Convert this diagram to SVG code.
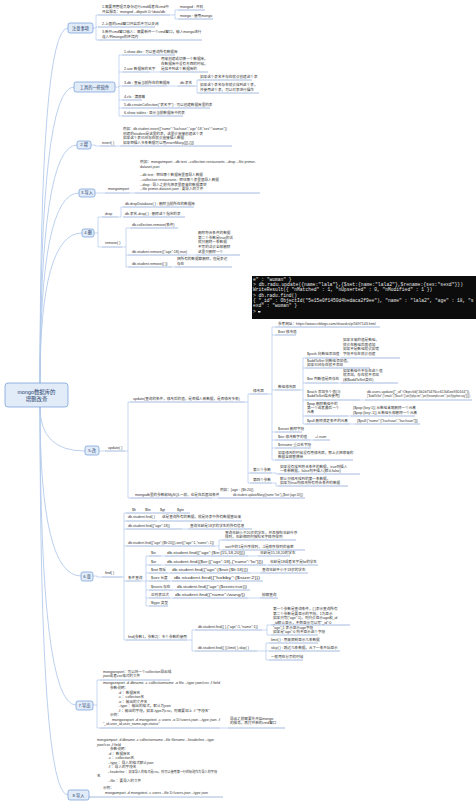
<svg xmlns="http://www.w3.org/2000/svg" width="476" height="806" viewBox="0 0 476 806">
<style>
.t{font-family:"Liberation Sans","Noto Sans CJK SC",sans-serif;font-size:3.6px;fill:#333}
.s{font-size:2.6px}
.bt{font-family:"Liberation Sans","Noto Sans CJK SC",sans-serif;font-size:4.2px;fill:#1f3d6b;text-anchor:middle}
.rt{font-family:"Liberation Sans","Noto Sans CJK SC",sans-serif;font-size:5.4px;fill:#1f3d6b;text-anchor:middle}
.box{fill:#e2ecf9;stroke:#6d99d6;stroke-width:0.7}
.u{stroke:#5a86c8;stroke-width:0.55;fill:none}
.c{stroke:#8fb1e0;stroke-width:0.5;fill:none;stroke-linejoin:round}
.r{stroke:#b3cbec;stroke-width:0.9;fill:none}
.code{font-family:"Liberation Mono",monospace;font-size:4.6px;fill:#e8e8e8}
</style>
<rect width="476" height="806" fill="#fff"/>
<g id="connectors">
<path class="r" d="M40,383Q40,28 68,28M40,383Q40,87 74,87M40,383Q40,145 77,145M40,383Q40,193 79,193M40,383Q40,233 82,233M40,407Q40,451 85,451M40,407Q40,576 81,576M40,407Q40,705 76,705M40,407Q40,795 68,795"/>
<path class="c" d="M93,28H96M96,15V40M96,15H98M96,27H98M96,40H98M170,15H175M175,10V19M175,10H178M175,19H178"/>
<path class="c" d="M115,87H119M119,55V116M119,55H122M119,72H122M119,86H122M119,100H122M119,108H122M119,116H122M150,72H160M167,86H178M195,86H197M197,80V93M197,80H198M197,93H198"/>
<path class="c" d="M91,145H95V146H100M116,146H120M95,193H105M130,193H135"/>
<path class="c" d="M94,233H98M98,217V247M98,217H102M98,247H102M118,217H121M121,207V217M121,207H123M122,247H126M126,228V267M126,228H130M126,255H128M126,267H128M187,255H196M172,267H175"/>
<path class="c" d="M99,451H105M125,451H128M128,402V498M128,402H130M128,498H130M245,402H248M248,394V483M248,394H250M248,473H250M248,483H250"/>
<path class="c" d="M268,394H272M272,327V460M272,327H275M272,335H275M272,390H275M272,432H275M272,440H275M272,448H275M272,460H275"/>
<path class="c" d="M300,390H303M303,358V424M303,358H305M303,368H305M303,383H305M303,400H305M303,416H305M303,424H305M338,358H341M338,383H341M360,400H365M348,416H351M350,424H355M310,440H313M272,473H276V474H278M272,483H276V486H278M212,498H218"/>
<path class="c" d="M93,576H97V577H102M122,577H124M124,513V640M124,513H126M124,521H126M124,529H126M124,546H126M124,581H126M124,640H126M157,521H160M182,529H188M215,546H219M219,540V550M219,540H222M219,550H222"/>
<path class="c" d="M141,581H146M146,556V606M146,556H149M146,565H149M146,573H149M146,581H149M146,590H149M146,598H149M146,606H149M161,556H165M248,556H258M161,565H165M266,565H268M168,573H170M250,573H260M170,581H172M173,590H175M170,598H173M248,598H260"/>
<path class="c" d="M187,640H192M192,630V651M192,630H195M192,651H195M262,630H267M267,625V635M267,625H271M267,635H271M257,651H266M266,643V660M266,643H269M266,651H269M266,660H269"/>
<path class="c" d="M93,705H97M97,680V728M97,680H100M97,728H100M220,728H228"/>
</g>
<g id="root"><rect class="box" x="5" y="383" width="63" height="24" rx="3"/><text class="rt" x="36.5" y="393.5">mongo数据库的</text><text class="rt" x="36.5" y="401">增删改查</text></g>
<g id="n1"><rect class="box" x="68" y="23" width="25" height="10" rx="2"/><text class="bt" x="80.5" y="29.5">注意事项</text>
<g id="n1-1"><text class="t" x="102" y="8.3">1.需要用管理员身份运行cmd或者在cmd中</text><text class="t" x="102" y="13.3">开启服务：mongod --dbpath D:\data\db</text><path class="u" d="M98,15H170"/></g>
<g id="n1-1a"><text class="t" x="180" y="8.3">mongod : 开机</text><path class="u" d="M178,10H205"/></g>
<g id="n1-1b"><text class="t" x="180" y="17.3">mongo : 使用mongo</text><path class="u" d="M178,19H213"/></g>
<g id="n1-2"><text class="t" x="102" y="25.3">2.上面的cmd窗口开启后不可以关闭</text><path class="u" d="M98,27H155"/></g>
<g id="n1-3"><text class="t" x="102" y="33.3">3.新开cmd窗口输入：需要新开一个cmd窗口，输入mongo进行</text><text class="t" x="102" y="38.3">连入到mongo的环境内</text><path class="u" d="M98,40H202"/></g>
</g>
<g id="n2"><rect class="box" x="74" y="82" width="41" height="10" rx="2"/><text class="bt" x="94.5" y="88.5">工具的一些软件</text>
<g id="n2-1"><text class="t" x="124" y="53.3">1.show dbs : 可以查询所有数据库</text><path class="u" d="M122,55H175"/></g>
<g id="n2-2"><text class="t" x="124" y="70.3">2.use 数据库的名字</text><path class="u" d="M122,72H150"/></g>
<g id="n2-2a"><text class="t" x="161" y="60.3">用来创建或切换一个数据库，</text><text class="t" x="161" y="65.3">在数据库中没有东西的时候，</text><text class="t" x="161" y="70.3">是找不到这个数据库的</text><path class="u" d="M160,72H208"/></g>
<g id="n2-3"><text class="t" x="124" y="84.3">3.db : 查看当前所在的数据库</text><path class="u" d="M122,86H167"/></g>
<g id="n2-3a"><text class="t" x="180" y="84.3">db.表名</text><path class="u" d="M178,86H195"/></g>
<g id="n2-3b"><text class="t" x="200" y="78.3">如果这个表名不存在就会创建这个表</text><path class="u" d="M198,80H252"/></g>
<g id="n2-3c"><text class="t" x="200" y="86.3">如果这个表名存在就会找到这个表，</text><text class="t" x="200" y="91.3">并使用这个表，可以对表进行操作</text><path class="u" d="M198,93H259"/></g>
<g id="n2-4"><text class="t" x="124" y="98.3">4.cls : 清屏幕</text><path class="u" d="M122,100H142"/></g>
<g id="n2-5"><text class="t" x="124" y="106.3">5.db.createCollection("表名字") : 可以创建数据库里的表</text><path class="u" d="M122,108H210"/></g>
<g id="n2-6"><text class="t" x="124" y="114.3">6.show tables : 显示当前数据库中的表</text><path class="u" d="M122,116H183"/></g>
</g>
<g id="n3"><rect class="box" x="77" y="141" width="14" height="8" rx="2"/><text class="bt" x="84" y="146.4">2.增</text>
<g id="n3-1"><text class="t" x="102" y="144.3">insert( )</text><path class="u" d="M100,146H116"/></g>
<g id="n3-1a"><text class="t" x="123" y="130.3" textLength="104" lengthAdjust="spacingAndGlyphs">例如：db.student.insert({"name":"liuchuan","age":18,"sex":"woman"})</text><text class="t" x="123" y="134.8">创建的student是这里的表，这里会直接创建这个表</text><text class="t" x="123" y="139.3">如果这个表已经存在就会直接插入数据</text><text class="t" x="123" y="143.8">如果想插入多条数据可以用insertMany([{},{}])</text><path class="u" d="M120,146H232"/></g>
</g>
<g id="n4"><rect class="box" x="79" y="189" width="16" height="8" rx="2"/><text class="bt" x="87" y="194.4">3.导入</text>
<g id="n4-1"><text class="t" x="108" y="190.3">mongoimport</text><path class="u" d="M105,193H130"/></g>
<g id="n4-1a"><text class="t" x="140" y="163.3" textLength="116" lengthAdjust="spacingAndGlyphs">例如：mongoimport --db test --collection restaurants --drop --file primer-</text><text class="t" x="140" y="168.3">dataset.json</text><text class="t" x="140" y="176.3">--db test : 想往哪个数据库里面导入数据</text><text class="t" x="140" y="181.3">--collection restaurants : 想往哪个表里面导入数据</text><text class="t" x="140" y="185.8">--drop : 导入之前先把表里原来的数据清空</text><text class="t" x="140" y="190.3">--file primer-dataset.json : 要导入的文件</text><path class="u" d="M135,193H260"/></g>
</g>
<g id="n5"><rect class="box" x="82" y="229" width="12" height="8" rx="2"/><text class="bt" x="88" y="234.4">4.删</text>
<g id="n5-1"><text class="t" x="105" y="215.3">drop</text><path class="u" d="M102,217H118"/></g>
<g id="n5-1a"><text class="t" x="125" y="205.3">db.dropDatabase( ) : 删除当前所在的数据库</text><path class="u" d="M123,207H194"/></g>
<g id="n5-1b"><text class="t" x="125" y="215.3">db.表名.drop( ) : 删除这个指定的表</text><path class="u" d="M123,217H185"/></g>
<g id="n5-2"><text class="t" x="105" y="244.3">remove( )</text><path class="u" d="M102,247H122"/></g>
<g id="n5-2a"><text class="t" x="132" y="226.3">db.collection.remove(条件)</text><path class="u" d="M130,228H178"/></g>
<g id="n5-2b"><text class="t" x="132" y="253.3">db.student.remove({"age":18},true)</text><path class="u" d="M128,255H187"/></g>
<g id="n5-2b1"><text class="t" x="198" y="234.3">删除符合条件的数据</text><text class="t" x="198" y="238.8">第二个参数是true的话</text><text class="t" x="198" y="243.3">就只删除一条数据</text><text class="t" x="198" y="247.8">不写的话会全部删除</text><text class="t" x="198" y="253.3">这里只删除一个</text><path class="u" d="M196,255H240"/></g>
<g id="n5-2c"><text class="t" x="132" y="265.3">db.student.remove({ })</text><path class="u" d="M128,267H172"/></g>
<g id="n5-2c1"><text class="t" x="177" y="260.3">把所有的数据都删除，但是表还</text><text class="t" x="177" y="265.3">存在</text><path class="u" d="M175,267H232"/></g>
</g>
<g id="n6"><rect class="box" x="85" y="446" width="14" height="9" rx="2"/><text class="bt" x="92" y="452">5.改</text>
<g id="n6-1"><text class="t" x="108" y="449.3">update( )</text><path class="u" d="M105,451H125"/></g>
<g id="n6-1a"><text class="t" x="133" y="400.3">update(查询的条件，修改后的值，是否插入新数据，是否修改多条)</text><path class="u" d="M130,402H245"/></g>
<g id="n6-m"><text class="t" x="253" y="392.3">修改器</text><path class="u" d="M250,394H268"/></g>
<g id="n6-m1"><text class="t" x="278" y="325.3">参考网址：https://www.cnblogs.com/shaosks/p/5697143.html</text><path class="u" d="M275,327H380"/></g>
<g id="n6-m2"><text class="t" x="278" y="333.3">$set 修改值</text><path class="u" d="M275,335H296"/></g>
<g id="n6-m3"><text class="t" x="278" y="388.3">数组修改器</text><path class="u" d="M275,390H300"/></g>
<g id="n6-a1"><text class="t" x="307" y="355.3">$push 向数组添加值</text><path class="u" d="M305,358H338"/><text class="t" x="343" y="341.3">如果本来的值是数组，</text><text class="t" x="343" y="345.8">就会在数组后面追加</text><text class="t" x="343" y="350.3">如果不是数组就会报错</text><text class="t" x="343" y="354.8">字段不存在就会创建</text><path class="u" d="M341,358H400"/></g>
<g id="n6-a2"><text class="t" x="307" y="362.3">$addToSet 向数组添加值，</text><text class="t" x="307" y="366.3">如果已经存在就不添加</text><path class="u" d="M305,368H370"/></g>
<g id="n6-a3"><text class="t" x="307" y="380.3">$ne 判断值是否存在</text><path class="u" d="M305,383H338"/><text class="t" x="343" y="371.8">如果数组中不存在这个值</text><text class="t" x="343" y="376.3">就添加，存在就不添加</text><text class="t" x="343" y="380.8">(和$addToSet类似)</text><path class="u" d="M341,383H398"/></g>
<g id="n6-a4"><text class="t" x="307" y="393.3">$each 添加多个值(与</text><text class="t" x="307" y="397.3">$addToSet结合使用)</text><path class="u" d="M305,400H360"/><text class="t s" x="367" y="393.3" textLength="103" lengthAdjust="spacingAndGlyphs">db.users.update({"_id":ObjectId("4b2d75476cc613d5ee930164")},</text><text class="t s" x="367" y="397.3" textLength="103" lengthAdjust="spacingAndGlyphs">{"$addToSet":{"emails":{"$each":["joe@php.net","joe@example.com","joe@python.org"]}}})</text><path class="u" d="M365,400H472"/></g>
<g id="n6-a5"><text class="t" x="307" y="405.3">$pop 删除数组中的</text><text class="t" x="307" y="409.3">第一个或者最后一个</text><text class="t" x="307" y="413.3">元素</text><path class="u" d="M305,416H348"/><text class="t" x="353" y="409.3">{$pop:{key:1}} 从数组末尾删除一个元素</text><text class="t" x="353" y="413.8">{$pop:{key:-1}} 从数组头部删除一个元素</text><path class="u" d="M351,416H415"/></g>
<g id="n6-a6"><text class="t" x="307" y="422.3">$pull 删除满足条件的元素</text><path class="u" d="M305,424H350"/><text class="t" x="357" y="422.3">{$pull:{"name":["liuchuan","liuchuan"]}}</text><path class="u" d="M355,424H420"/></g>
<g id="n6-m4"><text class="t" x="278" y="430.3">$unset 删除字段</text><path class="u" d="M275,432H302"/></g>
<g id="n6-m5"><text class="t" x="278" y="438.3">$inc 修改数字的值</text><path class="u" d="M275,440H310"/><text class="t" x="315" y="438.3">+/-num</text><path class="u" d="M313,440H330"/></g>
<g id="n6-m6"><text class="t" x="278" y="446.3">$rename 重命名字段</text><path class="u" d="M275,448H311"/></g>
<g id="n6-m7"><text class="t" x="278" y="454.3">如果修改的时候没有用修改器，那么会把原来的</text><text class="t" x="278" y="458.3">数据全部替换掉</text><path class="u" d="M275,460H353"/></g>
<g id="n6-p3"><text class="t" x="253" y="471.3">第三个参数</text><path class="u" d="M250,473H272"/><text class="t" x="280" y="468.3">如果没有找到符合条件的数据，true则插入</text><text class="t" x="280" y="472.3">一条新数据，false则不插入(默认false)</text><path class="u" d="M278,474H360"/></g>
<g id="n6-p4"><text class="t" x="253" y="481.3">第四个参数</text><path class="u" d="M250,483H272"/><text class="t" x="280" y="480.3">默认只修改找到的第一条数据，</text><text class="t" x="280" y="484.3">如果为true则修改所有符合条件的数据</text><path class="u" d="M278,486H348"/></g>
<g id="n6-1b"><text class="t" x="135" y="496.3">mongodb里的参数和MySQL一样，也是在后面加条件</text><path class="u" d="M130,498H212"/><text class="t" x="220" y="491.3">例如：{age : {$lt:20}}</text><text class="t" x="233" y="496.3" textLength="70" lengthAdjust="spacingAndGlyphs">db.student.updateMany({name:"lee"},{$set:{age:20}})</text><path class="u" d="M218,498H305"/></g>
<g id="code"><rect x="252" y="276" width="224" height="43" fill="#0c0c0c"/>
<text class="code" x="253" y="280.8">e" : "woman" }</text>
<text class="code" x="253" y="286" textLength="210" lengthAdjust="spacingAndGlyphs">&gt; db.radu.update({name:"lala"},{$set:{name:"lala2"},$rename:{sex:"sexd"}})</text>
<text class="code" x="253" y="291.3">WriteResult({ "nMatched" : 1, "nUpserted" : 0, "nModified" : 1 })</text>
<text class="code" x="253" y="296.5">&gt; db.radu.find()</text>
<text class="code" x="253" y="301.8">{ "_id" : ObjectId("5e15e0f1450d4bedaca2f9ee"), "name" : "lala2", "age" : 18, "s</text>
<text class="code" x="253" y="307">exd" : "woman" }</text>
<text class="code" x="253" y="313">&gt;</text><rect x="258" y="311" width="2.5" height="1.5" fill="#e8e8e8"/>
</g>
</g>
<g id="n7"><rect class="box" x="81" y="572" width="12" height="9" rx="2"/><text class="bt" x="87" y="578">6.查</text>
<g id="n7-1"><text class="t" x="105" y="574.3">find( )</text><path class="u" d="M102,577H122"/></g>
<g id="n7-h"><text class="t" x="132" y="511.3">$lt</text><text class="t" x="145" y="511.3">$lte</text><text class="t" x="160" y="511.3">$gt</text><text class="t" x="177" y="511.3">$gte</text><path class="u" d="M126,513H190"/></g>
<g id="n7-2"><text class="t" x="128" y="518.3">db.student.find( )</text><path class="u" d="M126,521H157"/><text class="t" x="162" y="518.3">这是查询所有的数据，就是将表中所有数据查出来</text><path class="u" d="M160,521H242"/></g>
<g id="n7-3"><text class="t" x="128" y="527.3">db.student.find({"age":18})</text><path class="u" d="M126,529H182"/><text class="t" x="190" y="527.3">查询年龄是18岁的学生的所有信息</text><path class="u" d="M188,529H252"/></g>
<g id="n7-4"><text class="t" x="128" y="544.3" textLength="86" lengthAdjust="spacingAndGlyphs">db.student.find({"age":{$lt:20}}).sort({"age":1,"name":-1})</text><path class="u" d="M126,546H215"/><text class="t" x="225" y="534.3">查询年龄小于20岁的学生，并且按照年龄升序</text><text class="t" x="225" y="538.3">排列，年龄相同时按照名字降序排列</text><path class="u" d="M222,540H296"/><text class="t" x="225" y="548.3">sort中的1是升序排列，-1是降序排列的意思</text><path class="u" d="M222,550H305"/></g>
<g id="n7-5"><text class="t" x="128" y="579.3">条件查询</text><path class="u" d="M126,581H141"/>
<text class="t" x="151" y="554.3">$in</text><path class="u" d="M149,556H161"/><text class="t" x="167" y="554.3" textLength="78" lengthAdjust="spacingAndGlyphs">db.student.find({"age":{$in:[15,18,20]}})</text><path class="u" d="M165,556H248"/><text class="t" x="260" y="554.3">年龄是15,18,20的学生</text><path class="u" d="M258,556H290"/>
<text class="t" x="151" y="563.3">$or</text><path class="u" d="M149,565H161"/><text class="t" x="167" y="563.3" textLength="96" lengthAdjust="spacingAndGlyphs">db.student.find({$or:[{"age":18},{"name":"lw"}]})</text><path class="u" d="M165,565H266"/><text class="t" x="270" y="563.3">年龄是18或者名字是lw的学生</text><path class="u" d="M268,565H318"/>
<text class="t" x="151" y="571.3">$not 取反</text><path class="u" d="M149,573H168"/><text class="t" x="172" y="571.3" textLength="76" lengthAdjust="spacingAndGlyphs">db.student.find({"age":{$not:{$lt:18}}})</text><path class="u" d="M170,573H250"/><text class="t" x="262" y="571.3">查询年龄不小于18岁的学生</text><path class="u" d="M260,573H308"/>
<text class="t" x="151" y="579.3">$size 长度</text><path class="u" d="M149,581H170"/><text class="t" x="174" y="579.3" textLength="86" lengthAdjust="spacingAndGlyphs">db.student.find({"hobby":{$size:2}})</text><path class="u" d="M172,581H263"/>
<text class="t" x="151" y="588.3">$exists 存在</text><path class="u" d="M149,590H173"/><text class="t" x="177" y="588.3" textLength="70" lengthAdjust="spacingAndGlyphs">db.student.find({"age":{$exists:true}})</text><path class="u" d="M175,590H250"/>
<text class="t" x="151" y="596.3">正则表达式</text><path class="u" d="M149,598H170"/><text class="t" x="175" y="596.3" textLength="70" lengthAdjust="spacingAndGlyphs">db.student.find({"name":/wang/})</text><path class="u" d="M173,598H248"/><text class="t" x="262" y="596.3">模糊查询</text><path class="u" d="M260,598H278"/>
<text class="t" x="151" y="604.3">$type 类型</text><path class="u" d="M149,606H168"/></g>
<g id="n7-6"><text class="t" x="128" y="638.3">find(参数1，参数2)：多个参数的使用</text><path class="u" d="M126,640H187"/>
<text class="t" x="198" y="628.3">db.student.find({ },{"age":1,"name":1})</text><path class="u" d="M195,630H262"/>
<text class="t" x="273" y="610.3">第一个参数是查询条件，{ }表示查询所有</text><text class="t" x="273" y="614.8">第二个参数是要显示的字段，1为显示</text><text class="t" x="273" y="619.3">如果只写{"age":1}，则只会显示age和_id</text><text class="t" x="273" y="623.8">_id默认显示，不想显示可以写"_id":0</text><path class="u" d="M271,625H350"/>
<text class="t" x="273" y="629.3">"age":1 表示显示age字段</text><text class="t" x="273" y="633.3">如果是"age":0 则不显示这个字段</text><path class="u" d="M271,635H318"/>
<text class="t" x="198" y="649.3">db.student.find({ }).limit( ).skip( )</text><path class="u" d="M195,651H257"/>
<text class="t" x="271" y="641.3">limit( ) : 用来限制显示几条数据</text><path class="u" d="M269,643H318"/>
<text class="t" x="271" y="649.3">skip( ) : 跳过几条数据，从下一条开始显示</text><path class="u" d="M269,651H340"/>
<text class="t" x="271" y="658.3">一般用在分页的时候</text><path class="u" d="M269,660H303"/></g>
</g>
<g id="n8"><rect class="box" x="76" y="701" width="17" height="9" rx="2"/><text class="bt" x="84.5" y="707">7.导出</text>
<g id="n8-1"><text class="t" x="103" y="673.3">mongoexport：可以将一个collection导出成</text><text class="t" x="103" y="677.3">json或者csv格式的文件</text><path class="u" d="M100,680H170"/></g>
<g id="n8-2"><text class="t" x="103" y="684.3" textLength="117" lengthAdjust="spacingAndGlyphs">mongoexport -d dbname -c collectionname -o file --type json/csv -f field</text>
<text class="t" x="110" y="689.3">参数说明：</text>
<text class="t" x="118" y="693.8">-d ：数据库名</text>
<text class="t" x="118" y="698.3">-c ：collection名</text>
<text class="t" x="118" y="702.8">-o ：输出的文件名</text>
<text class="t" x="118" y="707.3">--type ：输出的格式，默认为json</text>
<text class="t" x="118" y="711.8">-f ：输出的字段，如果-type为csv，则需要加上 -f "字段名"</text>
<text class="t" x="110" y="716.3">示例：</text>
<text class="t" x="112" y="720.8" textLength="108" lengthAdjust="spacingAndGlyphs">mongoexport -d mongotest -c users -o D:/users.json --type json -f</text>
<text class="t" x="103" y="725.3">"_id,user_id,user_name,age,status"</text><path class="u" d="M100,728H220"/></g>
<g id="n8-2a"><text class="t" x="230" y="720.3">导出之前需要先开启mongo</text><text class="t" x="230" y="724.3">的服务，再打开新的cmd窗口</text><path class="u" d="M228,728H285"/></g>
</g>
<g id="n9"><rect class="box" x="68" y="790" width="21" height="10" rx="2"/><text class="bt" x="78.5" y="796.5">8.导入</text>
<g id="n9-1"><text class="t" x="97" y="741.3" textLength="117" lengthAdjust="spacingAndGlyphs">mongoimport -d dbname -c collectionname --file filename --headerline --type</text>
<text class="t" x="97" y="745.8">json/csv -f field</text>
<text class="t" x="110" y="750.3">参数说明：</text>
<text class="t" x="108" y="754.8">-d ：数据库名</text>
<text class="t" x="108" y="759.3">-c ：collection名</text>
<text class="t" x="108" y="763.8">--type ：导入的格式默认json</text>
<text class="t" x="108" y="768.3">-f ：导入的字段名</text>
<text class="t" x="108" y="772.8" textLength="109" lengthAdjust="spacingAndGlyphs">--headerline ：如果导入的格式是csv，则可以使用第一行的标题作为导入的字段</text>
<text class="t" x="97" y="777.3">名</text>
<text class="t" x="108" y="781.8">--file ：要导入的文件</text>
<text class="t" x="103" y="789.3">示例：</text>
<text class="t" x="105" y="794.3" textLength="103" lengthAdjust="spacingAndGlyphs">mongoimport -d mongotest -c users --file D:/users.json --type json</text>
<path class="u" d="M89,797H223"/></g>
</g>
</svg>
